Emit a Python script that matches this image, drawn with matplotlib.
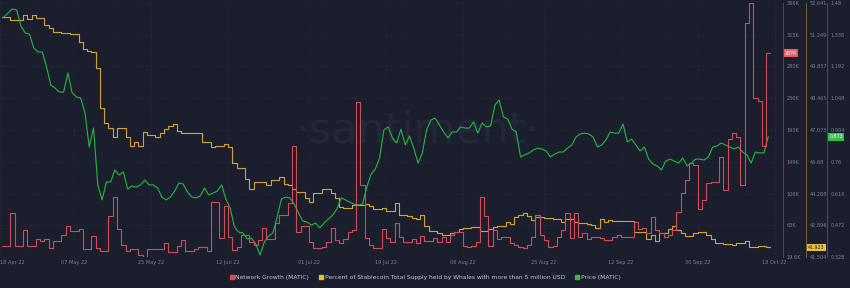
import numpy as np
import matplotlib.pyplot as plt
import matplotlib.transforms as mtransforms
from matplotlib.lines import Line2D

# daily values from 20 Apr 22 to 16 Oct 22
start_date = np.datetime64('2022-04-20')

network_growth_k = [
    34.6, 34.6, 79.6, 34.6, 34.6, 56.4, 34.6, 34.6, 44.2, 41.4,
    44.2, 31.9, 41.4, 41.4, 49.6, 61.9, 55.1, 55.1, 57.8, 30.5,
    30.5, 48.2, 31.9, 27.8, 27.8, 75.5, 101.4, 57.8, 36.0, 27.8,
    30.5, 30.5, 22.3, 19.6, 30.5, 30.5, 30.5, 30.5, 38.7, 26.4,
    26.4, 34.6, 42.8, 27.8, 27.8, 30.5, 33.2, 33.2, 27.8, 94.6,
    94.6, 45.5, 89.2, 46.9, 29.1, 33.2, 49.6, 49.6, 40.1, 36.0,
    42.8, 59.2, 44.2, 44.2, 66.0, 76.9, 76.9, 93.2, 171.0, 53.7,
    61.9, 61.9, 40.1, 31.9, 31.9, 33.2, 40.1, 59.2, 42.8, 38.7,
    44.2, 53.7, 56.4, 231.0, 117.8, 45.5, 36.0, 31.9, 31.9, 57.8,
    45.5, 40.1, 66.0, 46.9, 40.1, 40.1, 44.2, 38.7, 48.2, 41.4,
    41.4, 45.5, 40.1, 46.9, 40.1, 49.6, 53.7, 53.7, 34.6, 33.2,
    34.6, 40.1, 101.4, 75.5, 34.6, 56.4, 44.2, 46.9, 46.9, 38.7,
    36.0, 33.2, 31.9, 36.0, 46.9, 76.9, 49.6, 42.8, 33.2, 34.6,
    46.9, 56.4, 79.6, 45.5, 79.6, 46.9, 52.3, 44.2, 46.9, 46.9,
    45.5, 42.8, 42.8, 46.9, 49.6, 46.9, 46.9, 46.9, 67.3, 57.8,
    59.2, 52.3, 74.2, 56.4, 52.3, 46.9, 49.6, 56.4, 81.0, 106.9,
    124.6, 147.8, 145.1, 85.1, 97.3, 120.5, 121.9, 121.9, 156.0, 111.0,
    180.5, 188.7, 183.2, 117.8, 338.7, 366.0, 236.4, 232.4, 171.0, 297.8,
]

whale_stable_pct = [
    52.027, 52.027, 51.895, 51.895, 51.895, 52.115, 51.939, 52.115, 51.983, 51.983,
    51.676, 51.55, 51.369, 51.369, 51.325, 51.325, 51.282, 51.282, 50.931, 50.624,
    50.536, 50.493, 49.791, 48.037, 47.379, 47.160, 46.766, 47.160, 47.160, 46.766,
    46.371, 46.546, 46.371, 46.985, 46.853, 46.853, 46.766, 46.941, 47.116, 47.248,
    47.336, 47.029, 46.941, 46.941, 46.941, 46.941, 46.941, 46.546, 46.546, 46.327,
    46.371, 46.371, 46.459, 46.327, 45.626, 45.406, 45.406, 44.924, 44.485, 44.792,
    44.792, 44.792, 44.661, 44.880, 44.880, 45.012, 44.705, 44.661, 44.485, 44.354,
    44.354, 44.091, 43.916, 44.310, 44.310, 44.485, 44.485, 44.310, 44.091, 43.696,
    43.652, 43.652, 43.784, 43.784, 43.784, 43.828, 43.740, 43.609, 43.609, 43.652,
    43.521, 43.521, 43.872, 43.346, 43.346, 43.302, 43.214, 43.170, 43.346, 42.863,
    42.644, 42.644, 42.556, 42.469, 42.469, 42.556, 42.600, 42.732, 42.776, 42.776,
    42.819, 42.819, 42.644, 42.644, 42.732, 42.819, 42.863, 42.863, 43.039, 42.951,
    43.258, 43.346, 43.433, 43.302, 43.126, 43.258, 43.258, 43.214, 43.214, 43.170,
    43.170, 43.039, 43.170, 43.170, 43.039, 42.995, 42.995, 42.951, 42.907, 42.776,
    43.170, 43.039, 43.126, 43.082, 43.082, 43.082, 43.082, 43.082, 42.600, 42.600,
    42.600, 42.293, 42.469, 42.206, 42.556, 42.556, 42.732, 42.863, 42.688, 42.556,
    42.425, 42.425, 42.556, 42.600, 42.600, 42.469, 42.293, 42.118, 42.118, 42.074,
    42.074, 42.030, 42.118, 42.118, 42.206, 41.942, 41.942, 41.986, 41.986, 41.923,
]

price_matic = [
    1.416, 1.435, 1.453, 1.448, 1.376, 1.344, 1.339, 1.276, 1.258, 1.258,
    1.190, 1.108, 1.094, 1.076, 1.076, 1.162, 1.072, 1.054, 1.049, 0.981,
    0.827, 0.913, 0.655, 0.587, 0.668, 0.668, 0.723, 0.700, 0.714, 0.636,
    0.650, 0.645, 0.655, 0.677, 0.655, 0.655, 0.641, 0.600, 0.587, 0.600,
    0.627, 0.664, 0.659, 0.623, 0.600, 0.596, 0.605, 0.641, 0.609, 0.618,
    0.627, 0.655, 0.591, 0.550, 0.464, 0.441, 0.437, 0.410, 0.414, 0.387,
    0.337, 0.396, 0.423, 0.437, 0.509, 0.591, 0.600, 0.596, 0.568, 0.528,
    0.491, 0.487, 0.473, 0.482, 0.460, 0.482, 0.500, 0.518, 0.546, 0.596,
    0.587, 0.577, 0.568, 0.564, 0.568, 0.645, 0.704, 0.727, 0.777, 0.904,
    0.918, 0.868, 0.845, 0.908, 0.836, 0.877, 0.822, 0.754, 0.800, 0.904,
    0.949, 0.958, 0.927, 0.895, 0.868, 0.895, 0.895, 0.918, 0.913, 0.913,
    0.940, 0.890, 0.936, 0.918, 0.922, 1.017, 1.040, 0.963, 0.954, 0.908,
    0.895, 0.782, 0.791, 0.800, 0.813, 0.822, 0.818, 0.809, 0.782, 0.795,
    0.804, 0.804, 0.822, 0.836, 0.872, 0.886, 0.890, 0.886, 0.872, 0.827,
    0.836, 0.859, 0.895, 0.890, 0.890, 0.931, 0.850, 0.863, 0.836, 0.809,
    0.827, 0.772, 0.750, 0.741, 0.723, 0.763, 0.772, 0.763, 0.754, 0.777,
    0.741, 0.754, 0.772, 0.772, 0.768, 0.782, 0.827, 0.831, 0.845, 0.836,
    0.827, 0.818, 0.827, 0.804, 0.791, 0.754, 0.804, 0.800, 0.800, 0.873,
]

date_ticks = ['2022-04-18', '2022-05-07', '2022-05-25', '2022-06-12', '2022-07-01', '2022-07-19',
              '2022-08-06', '2022-08-25', '2022-09-12', '2022-09-30', '2022-10-18']
date_labels = ['18 Apr 22', '07 May 22', '25 May 22', '12 Jun 22', '01 Jul 22', '19 Jul 22',
               '06 Aug 22', '25 Aug 22', '12 Sep 22', '30 Sep 22', '18 Oct 22']

red_range = (19.6, 366.0)
red_labels = ['19.6K', '63K', '106K', '149K', '193K', '236K', '280K', '323K', '366K']
yellow_range = (41.504, 52.641)
yellow_labels = ['41.504', '42.896', '44.288', '45.68', '47.073', '48.465', '49.857', '51.249', '52.641']
green_range = (0.328, 1.48)
green_labels = ['0.328', '0.472', '0.616', '0.76', '0.904', '1.048', '1.192', '1.336', '1.48']

last_labels = ['287K', '41.923', '0.873']

BG = '#1b1e2d'
RED, YELLOW, GREEN = '#cf4c58', '#d3a431', '#25b83e'
TICK_GRAY = '#7b808f'

n = len(price_matic)
x_step = np.arange(n + 1)
x_mid = np.arange(n) + 0.5

fig = plt.figure(figsize=(8.5, 2.88), dpi=100, facecolor=BG)
ax = fig.add_axes([0.0, 0.1076, 781 / 850, 0.882])
ax.set_facecolor(BG)
xmin, xmax = -0.4, 182.5
ax.set_xlim(xmin, xmax)
ax.set_ylim(0, 8)
for s in ax.spines.values():
    s.set_visible(False)
ax.set_yticks(np.arange(9))
ax.set_yticklabels([])
ax.tick_params(axis='y', length=0)
ax.grid(True, color='#272b3c', linestyle=(0, (2, 3)), linewidth=0.5)

# x ticks as days since start
tick_pos = [(np.datetime64(d) - start_date).astype(int) for d in date_ticks]
tick_pos[0] = xmin
ax.set_xticks(tick_pos)
ax.set_xticklabels(date_labels)
ax.tick_params(axis='x', length=0, pad=2, labelsize=3.6, labelcolor=TICK_GRAY)
ax.get_xticklabels()[0].set_horizontalalignment('left')

ax.text(0.535, 0.5, '\u00b7santiment\u00b7', transform=ax.transAxes, ha='center', va='center',
        fontsize=31, color='#232738', zorder=0)


def make_axis(pos, lim, labels, color):
    a = ax.twinx()
    a.set_xlim(xmin, xmax)
    a.set_ylim(*lim)
    a.set_yticks(np.linspace(lim[0], lim[1], 9))
    a.set_yticklabels(labels)
    a.tick_params(axis='y', length=0, pad=2.5, labelsize=3.6, labelcolor=TICK_GRAY)
    for k in ['left', 'top', 'bottom']:
        a.spines[k].set_visible(False)
    a.spines['right'].set_position(('axes', pos))
    a.spines['right'].set_color(color)
    a.spines['right'].set_linewidth(0.8)
    return a


ax_y = make_axis(806 / 781, yellow_range, yellow_labels, '#6e5a2e')
ax_g = make_axis(827 / 781, green_range, green_labels, '#2a5e34')
ax_r = make_axis(783 / 781, red_range, red_labels, '#7a3040')

ax_y.plot(x_step, whale_stable_pct + [whale_stable_pct[-1]], drawstyle='steps-post', color=YELLOW, lw=0.8)
ax_g.plot(x_mid, price_matic, color=GREEN, lw=0.8)
ax_r.plot(x_step, network_growth_k + [network_growth_k[-1]], drawstyle='steps-post', color=RED, lw=0.8)

# last value boxes
boxes = [(ax_r, network_growth_k[-1], 785 / 781, last_labels[0], '#e0606c', 'white'),
         (ax_y, whale_stable_pct[-1], 808 / 781, last_labels[1], '#e9c23a', '#222222'),
         (ax_g, price_matic[-1], 829.5 / 781, last_labels[2], '#2ec14b', 'white')]
for a, val, xpos, txt, fc, tc in boxes:
    tr = mtransforms.blended_transform_factory(a.transAxes, a.transData)
    a.text(xpos, val, txt, transform=tr, ha='left', va='center', fontsize=3.4, color=tc,
           bbox=dict(boxstyle='square,pad=0.25', fc=fc, ec='none'), clip_on=False, zorder=10)

handles = [Line2D([], [], marker='s', linestyle='none', color=c, markersize=3.2)
           for c in ['#e04a55', '#e8bd30', '#2ec14b']]
labels = ['Network Growth (MATIC)',
          'Percent of Stablecoin Total Supply held by Whales with more than 5 million USD',
          'Price (MATIC)']
fig.legend(handles, labels, loc='center', bbox_to_anchor=(0.5, 0.038), ncol=3, frameon=False,
           fontsize=4.3, labelcolor='#c3c6d0', handletextpad=0.2, columnspacing=1.6,
           handlelength=0.8)

fig.savefig('out.png', dpi=100, facecolor=BG)
